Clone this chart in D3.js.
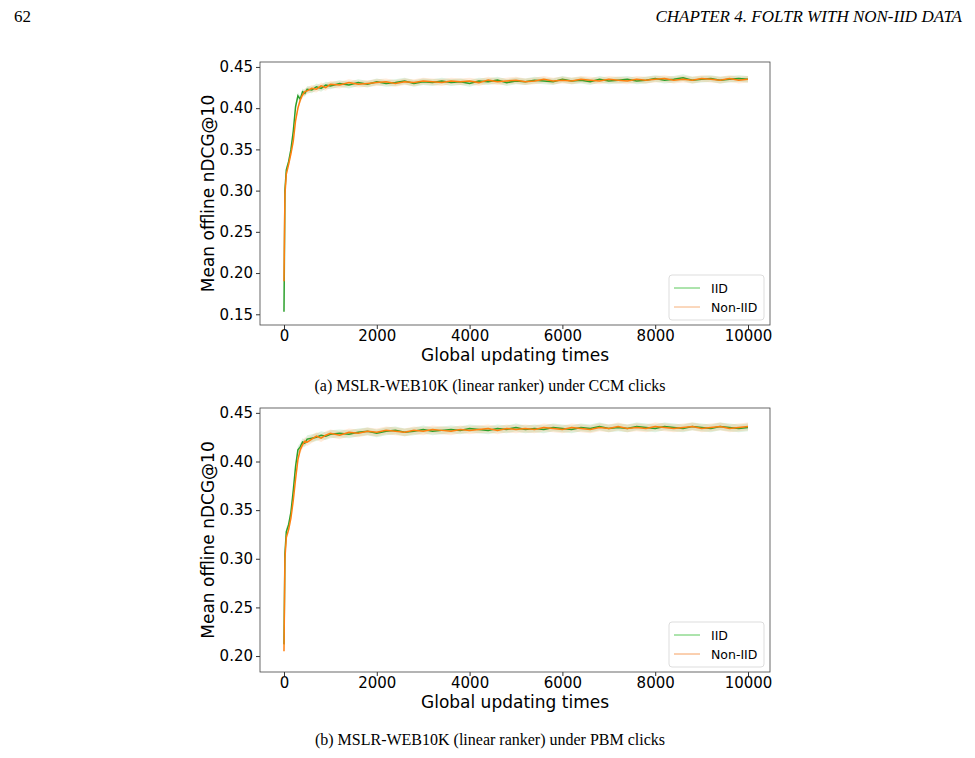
<!DOCTYPE html>
<html><head><meta charset="utf-8">
<script src="https://cdn.jsdelivr.net/npm/d3@7"></script>
<style>body{margin:0;background:#fff}</style>
</head><body><svg id="c" width="975" height="758"></svg>
<script>
const xs = [0,20,50,100,150,200,250,300,350,400,450,500,600,700,800,900,1000,1200,1400,1600,1800,2000,2200,2400,2600,2800,3000,3200,3400,3600,3800,4000,4200,4400,4600,4800,5000,5200,5400,5600,5800,6000,6200,6400,6600,6800,7000,7200,7400,7600,7800,8000,8200,8400,8600,8800,9000,9200,9400,9600,9800,10000];
const aIID = [0.153,0.300,0.325,0.335,0.350,0.372,0.402,0.415,0.411,0.420,0.418,0.423,0.422,0.426,0.424,0.428,0.427,0.430,0.428,0.431,0.429,0.432,0.430,0.431,0.433,0.430,0.432,0.431,0.433,0.431,0.432,0.430,0.433,0.432,0.434,0.431,0.433,0.432,0.434,0.433,0.432,0.435,0.433,0.434,0.432,0.435,0.433,0.434,0.435,0.433,0.434,0.436,0.434,0.435,0.437,0.434,0.435,0.436,0.434,0.435,0.436,0.435];
const aNon = [0.190,0.295,0.320,0.332,0.345,0.360,0.385,0.400,0.410,0.416,0.420,0.421,0.424,0.423,0.427,0.425,0.429,0.428,0.431,0.429,0.430,0.431,0.432,0.430,0.432,0.431,0.433,0.432,0.431,0.433,0.432,0.433,0.431,0.434,0.432,0.433,0.434,0.432,0.433,0.435,0.433,0.434,0.433,0.435,0.434,0.433,0.435,0.434,0.433,0.435,0.434,0.435,0.436,0.434,0.435,0.434,0.436,0.435,0.434,0.436,0.434,0.435];
const bIID = [0.212,0.305,0.328,0.335,0.348,0.370,0.395,0.412,0.415,0.420,0.419,0.423,0.424,0.425,0.427,0.426,0.428,0.429,0.428,0.430,0.431,0.429,0.431,0.432,0.430,0.431,0.433,0.431,0.432,0.433,0.432,0.434,0.433,0.432,0.434,0.433,0.435,0.433,0.434,0.433,0.435,0.434,0.433,0.435,0.434,0.436,0.434,0.435,0.434,0.436,0.435,0.434,0.436,0.435,0.434,0.436,0.435,0.434,0.436,0.435,0.434,0.435];
const bNon = [0.205,0.300,0.322,0.330,0.342,0.360,0.382,0.402,0.412,0.417,0.421,0.420,0.423,0.426,0.424,0.427,0.429,0.427,0.430,0.429,0.431,0.430,0.432,0.431,0.430,0.432,0.431,0.433,0.432,0.431,0.433,0.432,0.433,0.434,0.432,0.434,0.433,0.434,0.433,0.435,0.434,0.433,0.435,0.434,0.433,0.435,0.434,0.436,0.434,0.435,0.434,0.436,0.435,0.434,0.435,0.436,0.434,0.435,0.436,0.434,0.435,0.436];
const bandWidth = [0.004];
const xTicks = [0,2000,4000,6000,8000,10000];
const aTicks = [0.15,0.20,0.25,0.30,0.35,0.40,0.45];
const bTicks = [0.20,0.25,0.30,0.35,0.40,0.45];
const seriesNames = ["IID","Non-IID"];
const captions = ["(a) MSLR-WEB10K (linear ranker) under CCM clicks","(b) MSLR-WEB10K (linear ranker) under PBM clicks"];

const svg = d3.select("#c");
svg.append("text").attr("x",14).attr("y",22).attr("font-family","Liberation Serif").attr("font-size",17).text("62");
svg.append("text").attr("x",962).attr("y",22).attr("text-anchor","end").attr("font-family","Liberation Serif").attr("font-style","italic").attr("font-size",17).text("CHAPTER 4.  FOLTR WITH NON-IID DATA");

function panel(top,bottom,ydom,ticks,s1,s2,legendColors,capY,cap){
  const x = d3.scaleLinear().domain([-517,10474]).range([260,770]);
  const y = d3.scaleLinear().domain(ydom).range([bottom,top]);
  const g = svg.append("g");
  const cols=["#2ca02c","#ff7f0e"];
  [s1,s2].forEach((s,i)=>{
    const area=d3.area().x((d,j)=>x(xs[j])).y0(d=>y(d-bandWidth[0])).y1(d=>y(d+bandWidth[0]));
    g.append("path").attr("d",area(s)).attr("fill",cols[i]).attr("opacity",0.15);
  });
  [s1,s2].forEach((s,i)=>{
    const line=d3.line().x((d,j)=>x(xs[j])).y(d=>y(d));
    g.append("path").attr("d",line(s)).attr("fill","none").attr("stroke",cols[i]).attr("stroke-width",1.5);
  });
  const xa=g.append("g").attr("transform",`translate(0,${bottom})`).call(d3.axisBottom(x).tickValues(xTicks).tickFormat(d3.format("d")).tickSize(4));
  const ya=g.append("g").attr("transform",`translate(260,0)`).call(d3.axisLeft(y).tickValues(ticks).tickFormat(d3.format(".2f")).tickSize(4));
  [xa,ya].forEach(a=>{a.selectAll("text").attr("font-family","DejaVu Sans").attr("font-size",15).attr("fill","#000");a.select(".domain").remove();a.selectAll("line").attr("stroke","#333");});
  xa.selectAll("text").attr("dy","0.6em");
  g.append("rect").attr("x",260).attr("y",top).attr("width",510).attr("height",bottom-top).attr("fill","none").attr("stroke","#444").attr("stroke-width",0.8);
  g.append("text").attr("x",515).attr("y",bottom+36).attr("text-anchor","middle").attr("font-family","DejaVu Sans").attr("font-size",17).text("Global updating times");
  g.append("text").attr("transform",`translate(214,${(top+bottom)/2}) rotate(-90)`).attr("text-anchor","middle").attr("font-family","DejaVu Sans").attr("font-size",17).text("Mean offline nDCG@10");
  const lx=669, ly=bottom-50;
  g.append("rect").attr("x",lx).attr("y",ly).attr("width",95).attr("height",45).attr("rx",3).attr("fill","#fff").attr("stroke","#ddd");
  seriesNames.forEach((n,i)=>{
    g.append("line").attr("x1",lx+5).attr("x2",lx+31).attr("y1",ly+13+i*19).attr("y2",ly+13+i*19).attr("stroke",legendColors[i]).attr("stroke-width",1);
    g.append("text").attr("x",lx+42).attr("y",ly+18+i*19).attr("font-family","DejaVu Sans").attr("font-size",12.5).text(n);
  });
  svg.append("text").attr("x",490).attr("y",capY).attr("text-anchor","middle").attr("font-family","Liberation Serif").attr("font-size",16).text(cap);
}
panel(62,325,[0.137,0.456],aTicks,aIID,aNon,["#5bc85b","#f6b07a"],391,captions[0]);
panel(408,672,[0.1836,0.455],bTicks,bIID,bNon,["#5bc85b","#f6a060"],745,captions[1]);
</script></body></html>
